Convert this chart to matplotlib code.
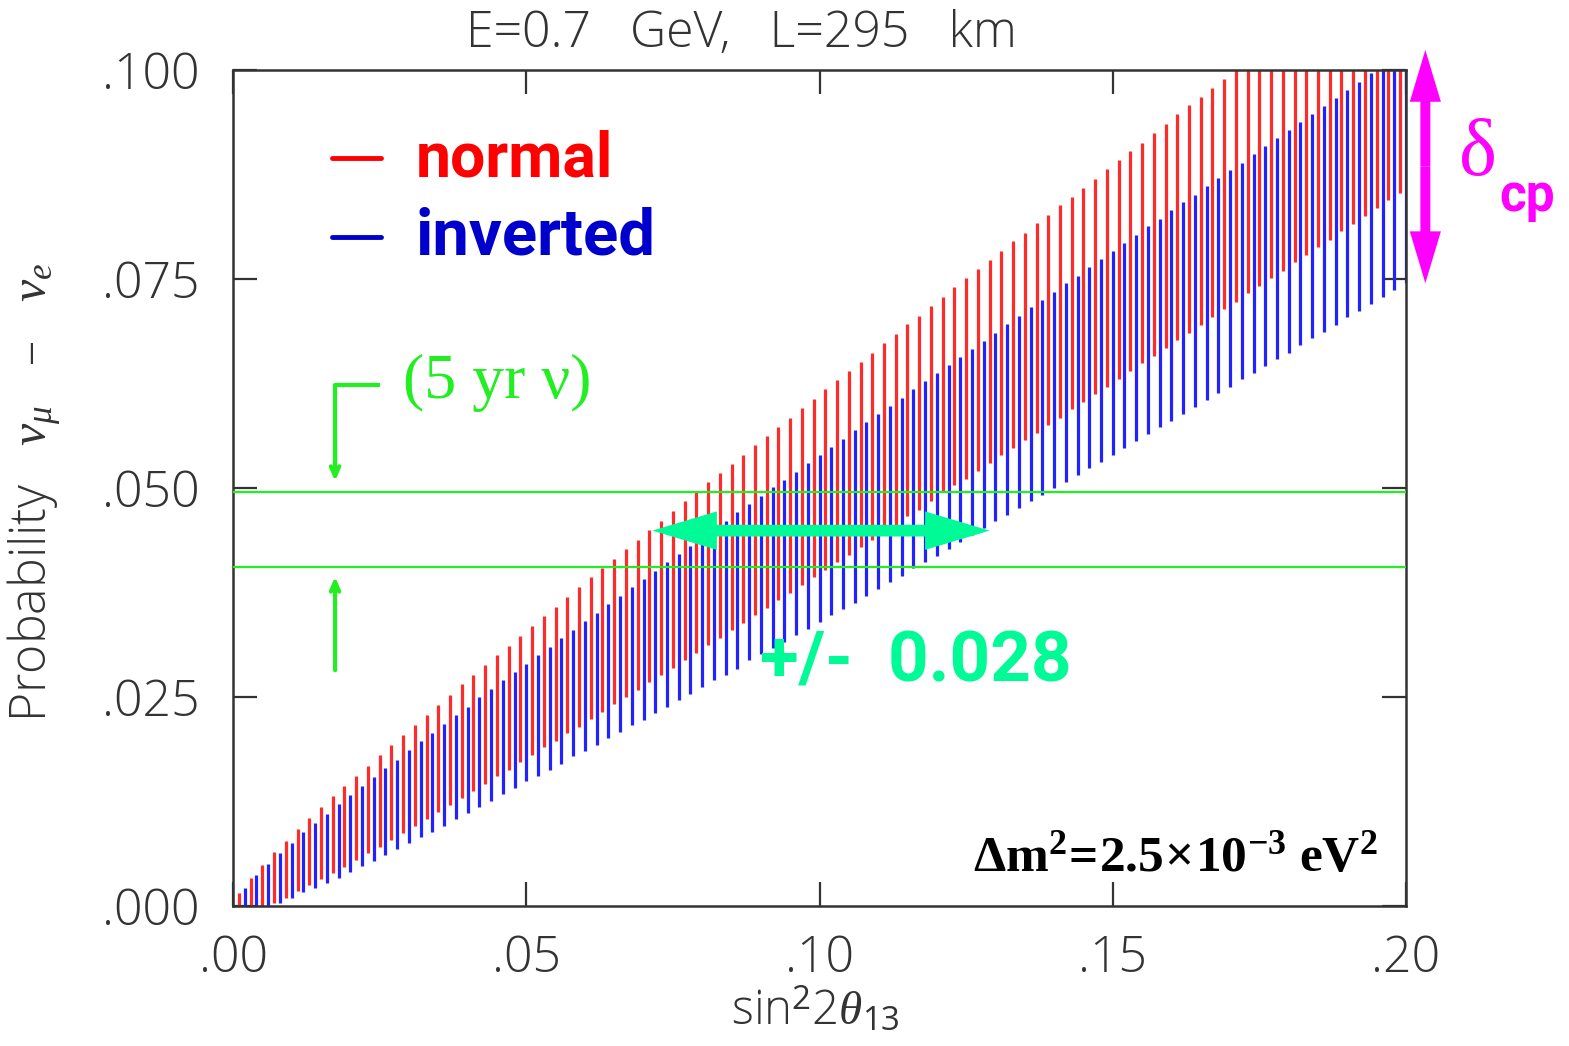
"""
Appearance probability nu_mu -> nu_e vs sin^2 2theta13 (E=0.7 GeV, L=295 km).
Each vertical bar is the range swept by delta_cp, normal vs inverted hierarchy.
"""

import matplotlib
matplotlib.use("Agg")
import matplotlib.pyplot as plt
import numpy as np
from matplotlib.patches import FancyArrow

plt.rcParams["mathtext.fontset"] = "custom"
plt.rcParams["mathtext.rm"] = "Open Sans"
plt.rcParams["mathtext.it"] = "Liberation Serif:italic"
plt.rcParams["mathtext.bf"] = "Liberation Serif:bold"

# sin^2 2theta13 grid of the bars (red / blue are interleaved)
sin2_normal = np.arange(1, 200, 2) / 1000.0
sin2_inverted = np.arange(2, 201, 2) / 1000.0

# delta_cp range per bar
normal_hi = [
    0.0015, 0.0034, 0.0049, 0.0064, 0.0078, 0.0092, 0.0105, 0.0118, 0.0131, 0.0144,
    0.0156, 0.0168, 0.0181, 0.0193, 0.0205, 0.0217, 0.0228, 0.0240, 0.0252, 0.0265,
    0.0276, 0.0288, 0.0300, 0.0311, 0.0323, 0.0335, 0.0347, 0.0358, 0.0370, 0.0381,
    0.0393, 0.0404, 0.0415, 0.0427, 0.0438, 0.0450, 0.0461, 0.0472, 0.0484, 0.0495,
    0.0507, 0.0518, 0.0529, 0.0539, 0.0551, 0.0562, 0.0573, 0.0584, 0.0596, 0.0607,
    0.0618, 0.0629, 0.0640, 0.0651, 0.0662, 0.0673, 0.0684, 0.0696, 0.0706, 0.0718,
    0.0729, 0.0740, 0.0751, 0.0762, 0.0773, 0.0783, 0.0795, 0.0805, 0.0817, 0.0827,
    0.0838, 0.0848, 0.0859, 0.0870, 0.0881, 0.0892, 0.0903, 0.0913, 0.0925, 0.0935,
    0.0947, 0.0958, 0.0968, 0.0979, 0.0989, 0.1000, 0.1000, 0.1000, 0.1000, 0.1000,
    0.1000, 0.1000, 0.1000, 0.1000, 0.1000, 0.1000, 0.1000, 0.1000, 0.1000, 0.1000,
]
normal_lo = [
    0.0000, 0.0000, 0.0000, 0.0004, 0.0010, 0.0018, 0.0025, 0.0032, 0.0039, 0.0047,
    0.0055, 0.0063, 0.0070, 0.0079, 0.0087, 0.0096, 0.0104, 0.0112, 0.0121, 0.0129,
    0.0137, 0.0146, 0.0155, 0.0163, 0.0172, 0.0181, 0.0190, 0.0197, 0.0207, 0.0214,
    0.0224, 0.0232, 0.0242, 0.0250, 0.0258, 0.0268, 0.0276, 0.0285, 0.0294, 0.0303,
    0.0312, 0.0321, 0.0330, 0.0339, 0.0348, 0.0357, 0.0366, 0.0375, 0.0384, 0.0393,
    0.0402, 0.0411, 0.0420, 0.0429, 0.0438, 0.0447, 0.0456, 0.0466, 0.0474, 0.0484,
    0.0495, 0.0503, 0.0511, 0.0520, 0.0530, 0.0539, 0.0548, 0.0557, 0.0566, 0.0575,
    0.0584, 0.0594, 0.0603, 0.0612, 0.0621, 0.0630, 0.0640, 0.0649, 0.0658, 0.0667,
    0.0677, 0.0686, 0.0695, 0.0704, 0.0714, 0.0723, 0.0733, 0.0742, 0.0751, 0.0760,
    0.0770, 0.0779, 0.0788, 0.0797, 0.0807, 0.0816, 0.0825, 0.0835, 0.0844, 0.0853,
]
inverted_hi = [
    0.0022, 0.0037, 0.0050, 0.0063, 0.0075, 0.0088, 0.0099, 0.0110, 0.0122, 0.0133,
    0.0144, 0.0154, 0.0165, 0.0175, 0.0187, 0.0197, 0.0207, 0.0218, 0.0228, 0.0238,
    0.0250, 0.0259, 0.0270, 0.0280, 0.0290, 0.0300, 0.0310, 0.0320, 0.0330, 0.0341,
    0.0351, 0.0361, 0.0371, 0.0381, 0.0391, 0.0401, 0.0411, 0.0421, 0.0431, 0.0440,
    0.0450, 0.0461, 0.0471, 0.0481, 0.0490, 0.0501, 0.0510, 0.0519, 0.0530, 0.0540,
    0.0549, 0.0559, 0.0569, 0.0579, 0.0589, 0.0598, 0.0608, 0.0618, 0.0628, 0.0638,
    0.0647, 0.0657, 0.0666, 0.0676, 0.0686, 0.0696, 0.0706, 0.0716, 0.0725, 0.0735,
    0.0745, 0.0754, 0.0764, 0.0774, 0.0784, 0.0793, 0.0803, 0.0813, 0.0822, 0.0832,
    0.0842, 0.0851, 0.0861, 0.0871, 0.0880, 0.0889, 0.0899, 0.0909, 0.0919, 0.0928,
    0.0938, 0.0947, 0.0957, 0.0967, 0.0976, 0.0986, 0.0996, 0.1000, 0.1000, 0.1000,
]
inverted_lo = [
    0.0000, 0.0000, 0.0000, 0.0003, 0.0010, 0.0017, 0.0022, 0.0028, 0.0034, 0.0041,
    0.0048, 0.0054, 0.0061, 0.0068, 0.0075, 0.0082, 0.0089, 0.0096, 0.0104, 0.0111,
    0.0118, 0.0126, 0.0134, 0.0141, 0.0149, 0.0156, 0.0163, 0.0170, 0.0179, 0.0186,
    0.0193, 0.0201, 0.0208, 0.0216, 0.0223, 0.0231, 0.0238, 0.0246, 0.0254, 0.0262,
    0.0270, 0.0276, 0.0284, 0.0294, 0.0301, 0.0309, 0.0316, 0.0324, 0.0331, 0.0340,
    0.0348, 0.0355, 0.0363, 0.0371, 0.0379, 0.0387, 0.0395, 0.0404, 0.0411, 0.0419,
    0.0427, 0.0436, 0.0444, 0.0452, 0.0460, 0.0468, 0.0476, 0.0484, 0.0492, 0.0500,
    0.0507, 0.0516, 0.0524, 0.0531, 0.0539, 0.0548, 0.0556, 0.0564, 0.0573, 0.0580,
    0.0589, 0.0597, 0.0605, 0.0614, 0.0621, 0.0630, 0.0638, 0.0646, 0.0654, 0.0662,
    0.0671, 0.0679, 0.0687, 0.0695, 0.0704, 0.0712, 0.0720, 0.0729, 0.0737, 0.0745,
]

# 5 yr nu measurement band and resulting sin^2 2theta13 range
band_lo, band_hi = 0.0405, 0.0495
band_mid = 0.0449
theta_range = (0.0715, 0.129)
dcp_range = (0.0745, 0.1024)

x_ticks = [0.0, 0.05, 0.10, 0.15, 0.20]
x_ticklabels = [".00", ".05", ".10", ".15", ".20"]
y_ticks = [0.0, 0.025, 0.05, 0.075, 0.1]
y_ticklabels = [".000", ".025", ".050", ".075", ".100"]

GRAY = "#333333"
RED = "#ff2a2a"
BLUE = "#2222ff"
LIME = "#22ee22"
MINT = "#00fa96"
MAGENTA = "#ff00ff"

fig = plt.figure(figsize=(15.69, 10.46), dpi=100)
ax = fig.add_axes([233 / 1569, 140 / 1046, 1173 / 1569, 836 / 1046])
ax.set_xlim(0, 0.2)
ax.set_ylim(0, 0.1)

ax.vlines(sin2_normal, normal_lo, normal_hi, color=RED, lw=2.3, zorder=2)
ax.vlines(sin2_inverted, inverted_lo, inverted_hi, color=BLUE, lw=2.3, zorder=2)

ax.axhline(band_hi, color=LIME, lw=1.6, zorder=3)
ax.axhline(band_lo, color=LIME, lw=1.6, zorder=3)

# double arrow for the theta13 range (two half arrows from the middle)
mid = 0.5 * (theta_range[0] + theta_range[1])
for end in theta_range:
    ax.add_patch(FancyArrow(mid, band_mid, end - mid, 0, width=0.0014,
                            head_width=0.0046, head_length=0.011,
                            length_includes_head=True, color=MINT, lw=0, zorder=4))

# delta_cp arrow, outside the axes on the right
x_dcp = 0.2033
mid = 0.5 * (dcp_range[0] + dcp_range[1])
for end in dcp_range:
    ax.add_patch(FancyArrow(x_dcp, mid, 0, end - mid, width=0.0017,
                            head_width=0.0053, head_length=0.0062,
                            length_includes_head=True, color=MAGENTA, lw=0,
                            zorder=4, clip_on=False))

# legend drawn by hand
ax.plot([0.0169, 0.0252], [0.0895, 0.0895], color="#ff0000", lw=3.5, solid_capstyle="round")
ax.plot([0.0169, 0.0252], [0.0800, 0.0800], color="#0000cc", lw=3.5, solid_capstyle="round")
ax.text(0.0311, 0.0893, "normal", color="#ff0000", fontsize=45, family="Roboto",
        weight="bold", va="center", ha="left")
ax.text(0.0311, 0.0800, "inverted", color="#0000cc", fontsize=47, family="Roboto",
        weight="bold", va="center", ha="left")

# 5 yr nu marker
ax.plot([0.0251, 0.0174, 0.0174], [0.0623, 0.0623, 0.0520], color=LIME, lw=3,
        solid_capstyle="butt")
ax.annotate("", xy=(0.0174, 0.0508), xytext=(0.0174, 0.0560),
            arrowprops=dict(arrowstyle="->,head_length=0.7,head_width=0.3",
                            color=LIME, lw=3, shrinkA=0, shrinkB=0))
ax.annotate("", xy=(0.0174, 0.0394), xytext=(0.0174, 0.0282),
            arrowprops=dict(arrowstyle="->,head_length=0.7,head_width=0.3",
                            color=LIME, lw=3, shrinkA=0, shrinkB=0))
ax.text(0.0290, 0.0626, "(5 yr \u03bd)", color=LIME, fontsize=46,
        family="Liberation Serif", va="center", ha="left")

ax.text(0.0899, 0.0292, "+/-  0.028", color=MINT, fontsize=51, family="Roboto",
        weight="bold", va="center", ha="left")

ax.text(0.1952, 0.0059, r"$\mathbf{\Delta m^2\!=\!2.5\!\times\!10^{-3}\ eV^2}$",
        color="black", fontsize=37, va="center", ha="right")

fig.text(1459 / 1569, 1 - 156 / 1046, "\u03b4", color=MAGENTA, fontsize=58,
         family="Liberation Serif", va="center", ha="left")
fig.text(1499 / 1569, 1 - 197 / 1046, "cp", color=MAGENTA, fontsize=37,
         family="Roboto", weight="bold", va="center", ha="left")

# axes styling
ax.set_xticks(x_ticks)
ax.set_xticklabels(x_ticklabels)
ax.set_yticks(y_ticks)
ax.set_yticklabels(y_ticklabels)
ax.tick_params(direction="in", length=17, width=1.6, top=True, right=True,
               colors=GRAY, labelsize=36, pad=24)
ax.tick_params(axis="x", pad=20)
for lab in ax.get_xticklabels() + ax.get_yticklabels():
    lab.set_family("Open Sans")
    lab.set_weight("light")
for sp in ax.spines.values():
    sp.set_color(GRAY)
    sp.set_linewidth(1.8)

fig.text(741 / 1569, 1 - 34 / 1046, "E=0.7   GeV,   L=295   km", color=GRAY,
         fontsize=36, family="Open Sans", weight="light", ha="center", va="center")
fig.text(35 / 1569, 1 - 492 / 1046,
         "Probability   $\\nu_{\\mu}$   \u2013   $\\nu_{e}$",
         color=GRAY, fontsize=36, family="Open Sans", weight="light",
         rotation=90, ha="center", va="center")
fig.text(815 / 1569, 1 - 1012 / 1046, r"sin$^2$2$\theta_{13}$", color=GRAY,
         fontsize=34, family="Open Sans", weight="light", ha="center", va="center")

fig.savefig("out.png", dpi=100)
